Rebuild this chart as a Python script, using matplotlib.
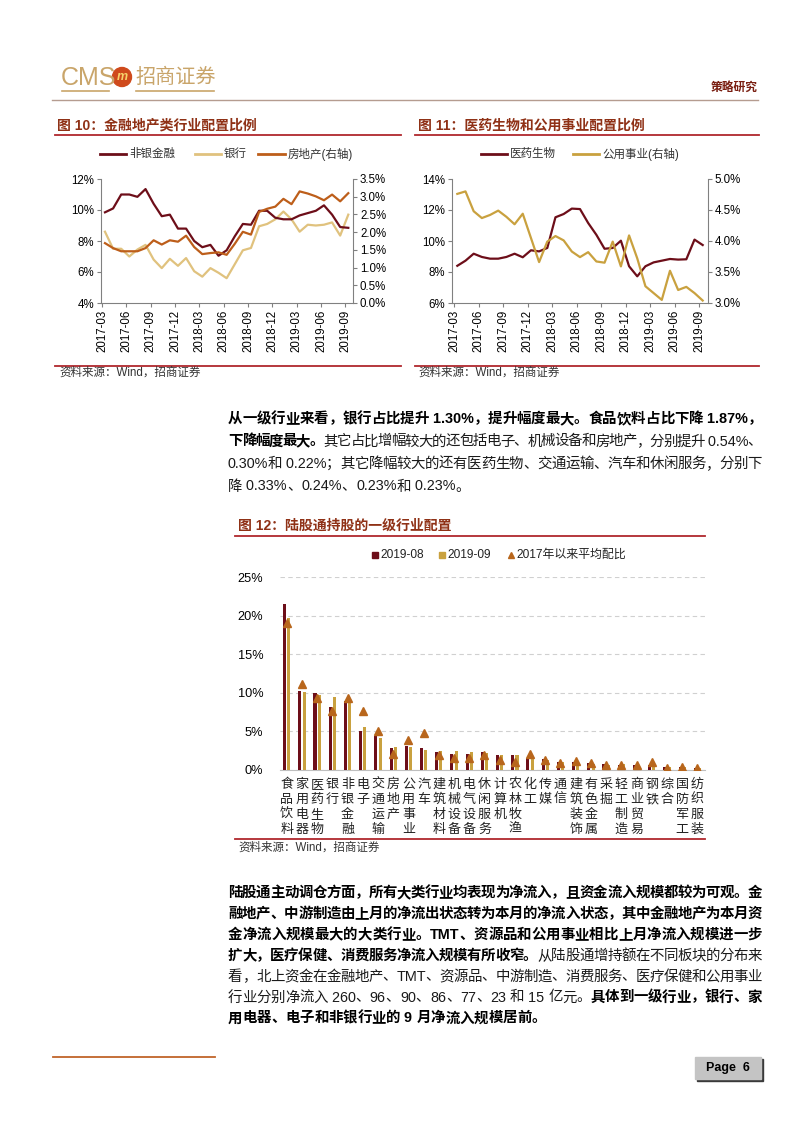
import re
import numpy as np
import matplotlib
matplotlib.use('Agg')
import matplotlib.pyplot as plt
from matplotlib.lines import Line2D
from matplotlib.patches import Rectangle, Ellipse
from matplotlib.ticker import FuncFormatter
from matplotlib import transforms

plt.rcParams['font.family'] = ['Liberation Sans', 'Noto Sans CJK SC']

# ---- data ----
months = ['2017-03', '2017-06', '2017-09', '2017-12', '2018-03', '2018-06',
          '2018-09', '2018-12', '2019-03', '2019-06', '2019-09']
nonbank = [9.85, 10.1, 11.0, 11.0, 10.85, 11.35, 10.4, 9.6, 9.7, 8.8, 8.8, 8.0, 7.6, 7.75, 7.05, 7.4,
           8.3, 9.1, 9.05, 9.95, 9.95, 9.5, 9.4, 9.4, 9.65, 9.8, 9.95, 10.3, 9.7, 8.9, 8.85]
bank = [8.6, 7.5, 7.5, 7.0, 7.45, 7.75, 6.8, 6.25, 6.85, 6.4, 6.9, 6.05, 5.7, 6.25, 5.95, 5.6,
        6.5, 7.4, 7.55, 8.95, 9.1, 9.4, 9.9, 9.4, 8.6, 9.05, 9.0, 9.05, 9.2, 8.35, 9.7]
realestate = [1.69, 1.55, 1.46, 1.46, 1.46, 1.55, 1.77, 1.65, 1.77, 1.73, 1.9, 1.58, 1.38, 1.41, 1.43, 1.36,
              1.67, 2.01, 1.93, 2.57, 2.66, 2.72, 2.94, 2.79, 3.15, 3.09, 3.01, 2.9, 3.06, 2.87, 3.1]
pharma = [8.4, 8.73, 9.18, 8.97, 8.86, 8.86, 8.97, 9.18, 8.95, 9.4, 9.33, 9.55, 11.53, 11.74, 12.09, 12.06,
          11.16, 10.4, 9.5, 9.55, 10.02, 8.37, 7.72, 8.37, 8.62, 8.73, 8.84, 8.8, 8.82, 10.09, 9.74]
utilities = [4.76, 4.8, 4.48, 4.37, 4.42, 4.49, 4.39, 4.27, 4.44, 4.05, 3.66, 3.99, 4.08, 4.01, 3.83, 3.74,
             3.82, 3.67, 3.65, 3.99, 3.59, 4.09, 3.72, 3.27, 3.16, 3.05, 3.52, 3.21, 3.26, 3.16, 3.04]

cats = ['食品饮料', '家用电器', '医药生物', '银行', '非银金融', '电子', '交通运输', '房地产', '公用事业',
        '汽车', '建筑材料', '机械设备', '电气设备', '休闲服务', '计算机', '农林牧渔', '化工', '传媒',
        '通信', '建筑装饰', '有色金属', '采掘', '轻工制造', '商业贸易', '钢铁', '综合', '国防军工', '纺织服装']
aug = [21.5, 10.2, 10.0, 8.2, 8.9, 5.1, 4.4, 2.8, 3.1, 2.9, 2.3, 2.1, 2.1, 2.3, 1.9, 1.9, 1.6, 1.4,
       1.0, 1.0, 0.85, 0.75, 0.7, 0.65, 0.6, 0.4, 0.35, 0.3]
sep = [19.7, 10.1, 9.7, 9.5, 8.8, 5.6, 4.1, 3.0, 3.0, 2.6, 2.4, 2.4, 2.3, 2.2, 2.0, 1.9, 1.6, 1.3,
       1.0, 0.9, 0.8, 0.7, 0.75, 0.65, 0.6, 0.35, 0.35, 0.3]
avg = [19.1, 11.2, 9.3, 7.6, 9.3, 7.6, 5.0, 2.1, 3.9, 4.8, 1.9, 1.5, 1.5, 1.9, 1.3, 1.1, 2.1, 1.3,
       0.9, 1.2, 0.85, 0.65, 0.7, 0.6, 1.0, 0.3, 0.4, 0.3]

para1 = [
    [("从一级行业来看，银行占比提升 1.30%，提升幅度最大。食品饮料占比下降 1.87%，", True)],
    [("下降幅度最大。", True), ("其它占比增幅较大的还包括电子、机械设备和房地产，分别提升 0.54%、", False)],
    [("0.30%和 0.22%；其它降幅较大的还有医药生物、交通运输、汽车和休闲服务，分别下", False)],
    [("降 0.33%、0.24%、0.23%和 0.23%。", False)],
]
para2 = [
    [("陆股通主动调仓方面，所有大类行业均表现为净流入，且资金流入规模都较为可观。金", True)],
    [("融地产、中游制造由上月的净流出状态转为本月的净流入状态，其中金融地产为本月资", True)],
    [("金净流入规模最大的大类行业。TMT、资源品和公用事业相比上月净流入规模进一步", True)],
    [("扩大，医疗保健、消费服务净流入规模有所收窄。", True), ("从陆股通增持额在不同板块的分布来", False)],
    [("看，北上资金在金融地产、TMT、资源品、中游制造、消费服务、医疗保健和公用事业", False)],
    [("行业分别净流入 260、96、90、86、77、23 和 15 亿元。", False), ("具体到一级行业，银行、家", True)],
    [("用电器、电子和非银行业的 9 月净流入规模居前。", True)],
]

maroon = '#6d0e19'
tan = '#e0c27e'
orange = '#bd5e1a'
gold = '#c9a13f'
tri = '#b8661c'
title_c = '#8f3116'
red = '#b0272d'
axis_c = '#808080'

W, H = 802, 1133
fig = plt.figure(figsize=(W / 100, H / 100), dpi=100)
renderer = fig.canvas.get_renderer()


def fx(x):
    return x / W


def fy(y):
    return 1 - y / H


def box(l, t, r, b):
    return fig.add_axes([l / W, 1 - b / H, (r - l) / W, (b - t) / H])


def hline(x0, x1, y, color, lw=1.0):
    fig.add_artist(Line2D([fx(x0), fx(x1)], [fy(y), fy(y)], color=color, lw=lw,
                          transform=fig.transFigure))


def txt(x, y, s, size, color='black', weight='normal', ha='left', va='center', **kw):
    return fig.text(fx(x), fy(y), s, fontsize=size, color=color, fontweight=weight,
                    ha=ha, va=va, **kw)


def para_line(segs, y, x0=228, x1=762, justify=True, size=10.4):
    items = []
    for s, bold in segs:
        for tok in re.findall(r' ?[0-9A-Za-z.%]+|.', s):
            t = txt(0, y, tok, size, color='black' if bold else '#1a1a1a',
                    weight='bold' if bold else 'normal')
            items.append(t)
    widths = [t.get_window_extent(renderer).width for t in items]
    gap = (x1 - x0 - sum(widths)) / (len(items) - 1) if justify else 0
    x = x0
    for t, w in zip(items, widths):
        t.set_x(fx(x))
        x += w + gap


# ---- page header ----
txt(61, 78, 'CMS', 18, color='#c9a56a', family=['Liberation Sans Narrow', 'Liberation Sans'])
fig.add_artist(Ellipse((fx(122), fy(77)), 19 / W, 19 / H, color='#cf4a1c', transform=fig.transFigure))
txt(122, 77, 'm', 9, color='#f6d36b', weight='bold', ha='center', style='italic')
txt(135, 77, '招商证券', 14.5, color='#c9a56a')
hline(62, 109, 91, '#c9a56a', 1.2)
hline(136, 214, 91, '#c9a56a', 1.2)
txt(758, 88, '策略研究', 8.5, color='#7a1f12', weight='bold', ha='right')
hline(52, 758, 100, '#b59c90', 1.0)

# ---- figure 10 / 11 titles ----
txt(57, 126, '图 10：金融地产类行业配置比例', 10, color=title_c, weight='bold')
hline(55, 401, 135, red, 1.3)
txt(418, 126, '图 11：医药生物和公用事业配置比例', 10, color=title_c, weight='bold')
hline(415, 759, 135, red, 1.3)


def leg_line(x0, x1, y, color, label):
    hline(x0, x1, y, color, 2)
    txt(x1 + 3, y, label, 8.3, color='#333333')


leg_line(100, 126, 154, maroon, '非银金融')
leg_line(195, 221, 154, tan, '银行')
leg_line(258, 285, 154, orange, '房地产(右轴)')
leg_line(481, 507, 154, maroon, '医药生物')
leg_line(573, 599, 154, gold, '公用事业(右轴)')


def style_dual(ax, ax2):
    for a in (ax, ax2):
        a.spines['top'].set_visible(False)
        for s in a.spines.values():
            s.set_color(axis_c)
            s.set_linewidth(0.8)
        a.tick_params(direction='out', length=3, width=0.8, color=axis_c, labelsize=8.3, pad=2)
    ax.spines['right'].set_visible(False)
    ax2.spines['left'].set_visible(False)
    ax2.spines['bottom'].set_visible(False)
    ax.yaxis.set_major_formatter(FuncFormatter(lambda v, p: f'{v:.0f}%'))
    ax2.yaxis.set_major_formatter(FuncFormatter(lambda v, p: f'{v:.1f}%'))
    ax.set_xticklabels(months, rotation=90, fontsize=8.3)


xs = np.arange(len(nonbank))

# figure 10
ax = box(101, 179, 353, 303)
ax2 = ax.twinx()
ax.plot(xs, nonbank, color=maroon, lw=1.6, zorder=3)
ax.plot(xs, bank, color=tan, lw=1.6, zorder=2)
ax2.plot(xs, realestate, color=orange, lw=1.6)
ax.set_ylim(4, 12)
ax.set_yticks([4, 6, 8, 10, 12])
ax2.set_ylim(0, 3.5)
ax2.set_yticks(np.arange(0, 3.51, 0.5))
ax.set_xlim(-0.49, 30.58)
ax.set_xticks(xs[::3] - 0.35)
style_dual(ax, ax2)

# figure 11
ax = box(452, 179, 708, 303)
ax2 = ax.twinx()
ax.plot(xs, pharma, color=maroon, lw=1.6)
ax2.plot(xs, utilities, color=gold, lw=1.6)
ax.set_ylim(6, 14)
ax.set_yticks([6, 8, 10, 12, 14])
ax2.set_ylim(3.0, 5.0)
ax2.set_yticks(np.arange(3.0, 5.01, 0.5))
ax.set_xlim(-0.65, 30.65)
ax.set_xticks(xs[::3] - 0.4)
style_dual(ax, ax2)

# sources
hline(55, 401, 366, red, 1.3)
txt(59, 373, '资料来源：Wind，招商证券', 8.3, color='#333333')
hline(415, 759, 366, red, 1.3)
txt(418, 373, '资料来源：Wind，招商证券', 8.3, color='#333333')

# ---- paragraph 1 ----
for i, segs in enumerate(para1):
    para_line(segs, 419 + 22.5 * i, justify=(i < len(para1) - 1))

# ---- figure 12 ----
txt(238, 526, '图 12：陆股通持股的一级行业配置', 10, color=title_c, weight='bold')
hline(235, 705, 536, red, 1.3)


def leg_marker(x, y, marker, color, label, ms):
    fig.add_artist(Line2D([fx(x)], [fy(y)], marker=marker, color=color, ms=ms, ls='none',
                          transform=fig.transFigure))
    txt(x + 5, y, label, 8.6, color='#222222')


leg_marker(375, 555, 's', maroon, '2019-08', 4.5)
leg_marker(442, 555, 's', gold, '2019-09', 4.5)
leg_marker(511, 555, '^', tri, '2017年以来平均配比', 4.5)

ax = box(280, 577, 705, 770)
xc = np.arange(len(cats))
ax.bar(xc - 0.14, aug, width=0.2, color=maroon, zorder=2)
ax.bar(xc + 0.14, sep, width=0.2, color=gold, zorder=2)
ax.plot(xc, avg, ls='none', marker='^', ms=5.5, color=tri, zorder=3)
ax.set_ylim(0, 25)
ax.set_yticks(range(0, 26, 5))
ax.yaxis.set_major_formatter(FuncFormatter(lambda v, p: f'{v:.0f}%'))
ax.set_xlim(-0.44, 27.5)
ax.set_xticks(xc)
ax.tick_params(axis='x', length=0, labelbottom=False)
ax.tick_params(axis='y', length=0, labelsize=9.2, pad=12)
ax.grid(axis='y', color='#d0d0d0', ls=(0, (4, 3)), lw=0.8, zorder=0)
for s in ('top', 'right', 'left'):
    ax.spines[s].set_visible(False)
ax.spines['bottom'].set_color('#bfbfbf')
ax.spines['bottom'].set_zorder(1)
blend = transforms.blended_transform_factory(ax.transData, fig.transFigure)
for i, c in enumerate(cats):
    for k, ch in enumerate(c):
        ax.text(i, fy(785 + 15 * k), ch, transform=blend, ha='center', va='center',
                fontsize=9.4, color='#222222')

hline(235, 705, 839, red, 1.3)
txt(238, 848, '资料来源：Wind，招商证券', 8.3, color='#333333')

# ---- paragraph 2 ----
for i, segs in enumerate(para2):
    para_line(segs, 893 + 20.9 * i, justify=(i < len(para2) - 1))

# ---- footer ----
hline(53, 215, 1057, '#c0652a', 1.3)
fig.add_artist(Rectangle((fx(697), fy(1081)), 66 / W, 22 / H, color='#3a3a3a', transform=fig.transFigure))
fig.add_artist(Rectangle((fx(695), fy(1079)), 66 / W, 22 / H, color='#c4c4c4', transform=fig.transFigure))
txt(728, 1068, 'Page  6', 9, weight='bold', ha='center')

fig.savefig('out.png', dpi=100)
